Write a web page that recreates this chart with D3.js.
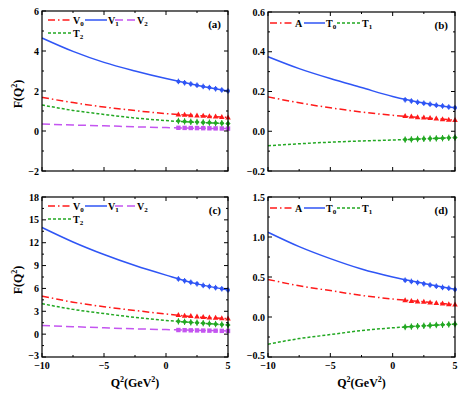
<!DOCTYPE html>
<html>
<head>
<meta charset="utf-8">
<script src="https://cdn.jsdelivr.net/npm/d3@7"></script>
<style>
  body { margin: 0; background: #fff; }
  text { font-family: "Liberation Serif", "Times New Roman", serif; font-weight: bold; }
</style>
</head>
<body>
<div id="chart"></div>
<script>
// Q^2 grid for the curves and for the points
var qCurve = [-10, -7.5, -5, -2.5, 0, 2.5, 5];
var qPts = [1, 1.5, 2, 2.5, 3, 3.5, 4, 4.5, 5];

// panel (a)
var aV0 = [1.68, 1.42, 1.2, 1.02, 0.87, 0.77, 0.68];
var aV1 = [4.65, 3.98, 3.43, 3.0, 2.62, 2.29, 2.0];
var aV2 = [0.35, 0.3, 0.26, 0.21, 0.17, 0.14, 0.12];
var aT2 = [1.3, 1.03, 0.83, 0.65, 0.52, 0.43, 0.37];
var aV0Pts = [0.83, 0.81, 0.79, 0.77, 0.76, 0.74, 0.72, 0.7, 0.68];
var aV1Pts = [2.48, 2.41, 2.35, 2.29, 2.23, 2.17, 2.11, 2.05, 2.0];
var aV2Pts = [0.16, 0.155, 0.15, 0.145, 0.14, 0.135, 0.13, 0.125, 0.12];
var aT2Pts = [0.5, 0.48, 0.46, 0.45, 0.43, 0.42, 0.4, 0.39, 0.37];

// panel (b)
var bA = [0.173, 0.143, 0.118, 0.097, 0.08, 0.068, 0.056];
var bT0 = [0.375, 0.315, 0.265, 0.22, 0.175, 0.142, 0.118];
var bT1 = [-0.073, -0.063, -0.055, -0.049, -0.044, -0.038, -0.032];
var bAPts = [0.077, 0.074, 0.071, 0.069, 0.067, 0.064, 0.061, 0.058, 0.056];
var bT0Pts = [0.158, 0.152, 0.146, 0.141, 0.136, 0.131, 0.127, 0.122, 0.118];
var bT1Pts = [-0.042, -0.041, -0.039, -0.038, -0.037, -0.036, -0.035, -0.033, -0.032];

// panel (c)
var cV0 = [5.0, 4.2, 3.6, 3.1, 2.65, 2.25, 2.05];
var cV1 = [14.0, 12.1, 10.45, 9.0, 7.75, 6.6, 5.8];
var cV2 = [1.15, 0.98, 0.83, 0.7, 0.6, 0.5, 0.42];
var cT2 = [4.0, 3.25, 2.7, 2.2, 1.8, 1.48, 1.2];
var cV0Pts = [2.5, 2.43, 2.37, 2.31, 2.25, 2.2, 2.15, 2.1, 2.05];
var cV1Pts = [7.25, 7.0, 6.8, 6.6, 6.4, 6.25, 6.1, 5.95, 5.8];
var cV2Pts = [0.54, 0.52, 0.5, 0.49, 0.47, 0.46, 0.45, 0.43, 0.42];
var cT2Pts = [1.68, 1.62, 1.55, 1.5, 1.44, 1.38, 1.32, 1.26, 1.2];

// panel (d)
var dA = [0.47, 0.39, 0.33, 0.27, 0.225, 0.19, 0.155];
var dT0 = [1.06, 0.88, 0.73, 0.6, 0.5, 0.42, 0.345];
var dT1 = [-0.34, -0.27, -0.22, -0.17, -0.135, -0.11, -0.09];
var dAPts = [0.21, 0.2, 0.195, 0.19, 0.18, 0.175, 0.17, 0.16, 0.155];
var dT0Pts = [0.46, 0.445, 0.43, 0.415, 0.4, 0.385, 0.37, 0.36, 0.345];
var dT1Pts = [-0.125, -0.12, -0.115, -0.11, -0.105, -0.1, -0.097, -0.093, -0.09];

var xTicks = [-10, -5, 0, 5];

var sty = {
  red:    { color: "#ff1a1a", dash: "7,3,1.5,3", sym: "tri" },
  blue:   { color: "#2f55f5", dash: null, sym: "circ" },
  purple: { color: "#c455f0", dash: "8,4", sym: "sq" },
  green:  { color: "#22a822", dash: "3,2", sym: "dia" }
};

var svg = d3.select("#chart").append("svg")
  .attr("width", 464).attr("height", 394);

function fmt(v, dec) {
  var s = v.toFixed(dec);
  return s.replace("-", "\u2212");
}

function drawPanel(p) {
  var x = d3.scaleLinear().domain([-10, 5]).range([p.left, p.right]);
  var y = d3.scaleLinear().domain(p.yDom).range([p.bottom, p.top]);
  var g = svg.append("g");

  // curves
  var line = d3.line().x(function(d) { return x(d[0]); }).y(function(d) { return y(d[1]); })
    .curve(d3.curveMonotoneX);
  p.series.forEach(function(s) {
    g.append("path")
      .datum(qCurve.map(function(q, i) { return [q, s.curve[i]]; }))
      .attr("d", line)
      .attr("fill", "none")
      .attr("stroke", s.st.color)
      .attr("stroke-width", 1.5)
      .attr("stroke-dasharray", s.st.dash);
  });

  // points
  p.series.forEach(function(s) {
    var pts = qPts.map(function(q, i) { return [q, s.pts[i]]; });
    var mg = g.append("g").attr("fill", s.st.color).attr("stroke", s.st.color);
    pts.forEach(function(d) {
      var px = x(d[0]), py = y(d[1]);
      if (s.st.sym === "tri") {
        mg.append("path").attr("d", "M" + px + "," + (py - 3) + "L" + (px + 2.8) + "," + (py + 2) + "L" + (px - 2.8) + "," + (py + 2) + "Z")
          .attr("stroke", "none");
      } else if (s.st.sym === "sq") {
        mg.append("rect").attr("x", px - 2.2).attr("y", py - 2.2).attr("width", 4.4).attr("height", 4.4).attr("stroke", "none");
      } else if (s.st.sym === "circ") {
        mg.append("line").attr("x1", px).attr("x2", px).attr("y1", py - 2.8).attr("y2", py + 2.8).attr("stroke-width", 1);
        mg.append("circle").attr("cx", px).attr("cy", py).attr("r", 2).attr("stroke", "none");
      } else {
        mg.append("line").attr("x1", px).attr("x2", px).attr("y1", py - 3.2).attr("y2", py + 3.2).attr("stroke-width", 1);
        mg.append("path").attr("d", "M" + px + "," + (py - 2.6) + "L" + (px + 2.6) + "," + py + "L" + px + "," + (py + 2.6) + "L" + (px - 2.6) + "," + py + "Z")
          .attr("stroke", "none");
      }
    });
  });

  // frame
  g.append("rect")
    .attr("x", p.left).attr("y", p.top)
    .attr("width", p.right - p.left).attr("height", p.bottom - p.top)
    .attr("fill", "none").attr("stroke", "#000").attr("stroke-width", 1.2);

  // ticks, inward on all sides
  var tk = g.append("g").attr("stroke", "#000").attr("stroke-width", 1);
  var xMinor = [-7.5, -2.5, 2.5];
  xTicks.forEach(function(t) {
    tk.append("line").attr("x1", x(t)).attr("x2", x(t)).attr("y1", p.bottom).attr("y2", p.bottom - 4);
    tk.append("line").attr("x1", x(t)).attr("x2", x(t)).attr("y1", p.top).attr("y2", p.top + 4);
  });
  xMinor.forEach(function(t) {
    tk.append("line").attr("x1", x(t)).attr("x2", x(t)).attr("y1", p.bottom).attr("y2", p.bottom - 2);
    tk.append("line").attr("x1", x(t)).attr("x2", x(t)).attr("y1", p.top).attr("y2", p.top + 2);
  });
  p.yTicks.forEach(function(t, i) {
    tk.append("line").attr("x1", p.left).attr("x2", p.left + 4).attr("y1", y(t)).attr("y2", y(t));
    tk.append("line").attr("x1", p.right).attr("x2", p.right - 4).attr("y1", y(t)).attr("y2", y(t));
    if (i < p.yTicks.length - 1) {
      var m = (t + p.yTicks[i + 1]) / 2;
      tk.append("line").attr("x1", p.left).attr("x2", p.left + 2).attr("y1", y(m)).attr("y2", y(m));
      tk.append("line").attr("x1", p.right).attr("x2", p.right - 2).attr("y1", y(m)).attr("y2", y(m));
    }
  });

  // y tick labels
  p.yTicks.forEach(function(t, i) {
    // lowest label sits a bit higher, clear of the x labels
    var off = (p.xLabels && i === 0) ? 1.5 : 3.5;
    g.append("text").attr("x", p.left - 3).attr("y", y(t) + off)
      .attr("text-anchor", "end").attr("font-size", 10)
      .text(fmt(t, p.yDec));
  });

  // x tick labels (bottom row only)
  if (p.xLabels) {
    xTicks.forEach(function(t) {
      g.append("text").attr("x", x(t)).attr("y", p.bottom + 12)
        .attr("text-anchor", "middle").attr("font-size", 10)
        .text(fmt(t, 0));
    });
    var xt = g.append("text").attr("x", (p.left + p.right) / 2).attr("y", p.bottom + 30)
      .attr("text-anchor", "middle").attr("font-size", 12);
    xt.append("tspan").text("Q");
    xt.append("tspan").attr("dy", -5).attr("font-size", 8).text("2");
    xt.append("tspan").attr("dy", 5).text("(GeV");
    xt.append("tspan").attr("dy", -5).attr("font-size", 8).text("2");
    xt.append("tspan").attr("dy", 5).text(")");
  }

  // y title (left column only)
  if (p.yTitle) {
    var cy = (p.top + p.bottom) / 2 + 3;
    var yt = g.append("text").attr("transform", "translate(22," + cy + ") rotate(-90)")
      .attr("text-anchor", "middle").attr("font-size", 12);
    yt.append("tspan").text("F(Q");
    yt.append("tspan").attr("dy", -5).attr("font-size", 8).text("2");
    yt.append("tspan").attr("dy", 5).text(")");
  }

  // legend
  p.legend.forEach(function(L) {
    var s = p.series[L.idx];
    var ly = p.top + L.row;
    g.append("line").attr("x1", p.left + L.x0).attr("x2", p.left + L.x1)
      .attr("y1", ly).attr("y2", ly)
      .attr("stroke", s.st.color).attr("stroke-width", 1.5)
      .attr("stroke-dasharray", s.st.dash);
    var lt = g.append("text").attr("x", p.left + L.x1 + 1).attr("y", ly + 3.5).attr("font-size", 10);
    lt.append("tspan").text(s.name);
    if (s.sub) lt.append("tspan").attr("dy", 2.5).attr("font-size", 7).text(s.sub);
  });

  // panel label
  g.append("text").attr("x", p.right - 7).attr("y", p.top + 17)
    .attr("text-anchor", "end").attr("font-size", 11).text(p.label);
}

var legVT = [
  { idx: 0, row: 9, x0: 6, x1: 30 },
  { idx: 1, row: 9, x0: 43, x1: 65 },
  { idx: 2, row: 9, x0: 73, x1: 94 },
  { idx: 3, row: 22, x0: 6, x1: 30 }
];
var legAT = [
  { idx: 0, row: 11, x0: 2, x1: 26 },
  { idx: 1, row: 11, x0: 36, x1: 57 },
  { idx: 2, row: 11, x0: 69, x1: 93 }
];

drawPanel({
  left: 42, right: 228, top: 11, bottom: 171,
  yDom: [-2, 6], yTicks: [-2, 0, 2, 4, 6], yDec: 0,
  xLabels: false, yTitle: true, label: "(a)",
  series: [
    { name: "V", sub: "0", st: sty.red, curve: aV0, pts: aV0Pts },
    { name: "V", sub: "1", st: sty.blue, curve: aV1, pts: aV1Pts },
    { name: "V", sub: "2", st: sty.purple, curve: aV2, pts: aV2Pts },
    { name: "T", sub: "2", st: sty.green, curve: aT2, pts: aT2Pts }
  ],
  legend: legVT
});

drawPanel({
  left: 268, right: 455, top: 12, bottom: 171,
  yDom: [-0.2, 0.6], yTicks: [-0.2, 0, 0.2, 0.4, 0.6], yDec: 1,
  xLabels: false, yTitle: false, label: "(b)",
  series: [
    { name: "A", sub: null, st: sty.red, curve: bA, pts: bAPts },
    { name: "T", sub: "0", st: sty.blue, curve: bT0, pts: bT0Pts },
    { name: "T", sub: "1", st: sty.green, curve: bT1, pts: bT1Pts }
  ],
  legend: legAT
});

drawPanel({
  left: 42, right: 228, top: 197, bottom: 357,
  yDom: [-3, 18], yTicks: [-3, 0, 3, 6, 9, 12, 15, 18], yDec: 0,
  xLabels: true, yTitle: true, label: "(c)",
  series: [
    { name: "V", sub: "0", st: sty.red, curve: cV0, pts: cV0Pts },
    { name: "V", sub: "1", st: sty.blue, curve: cV1, pts: cV1Pts },
    { name: "V", sub: "2", st: sty.purple, curve: cV2, pts: cV2Pts },
    { name: "T", sub: "2", st: sty.green, curve: cT2, pts: cT2Pts }
  ],
  legend: legVT
});

drawPanel({
  left: 268, right: 455, top: 197, bottom: 357,
  yDom: [-0.5, 1.5], yTicks: [-0.5, 0, 0.5, 1.0, 1.5], yDec: 1,
  xLabels: true, yTitle: false, label: "(d)",
  series: [
    { name: "A", sub: null, st: sty.red, curve: dA, pts: dAPts },
    { name: "T", sub: "0", st: sty.blue, curve: dT0, pts: dT0Pts },
    { name: "T", sub: "1", st: sty.green, curve: dT1, pts: dT1Pts }
  ],
  legend: legAT
});
</script>
</body>
</html>
